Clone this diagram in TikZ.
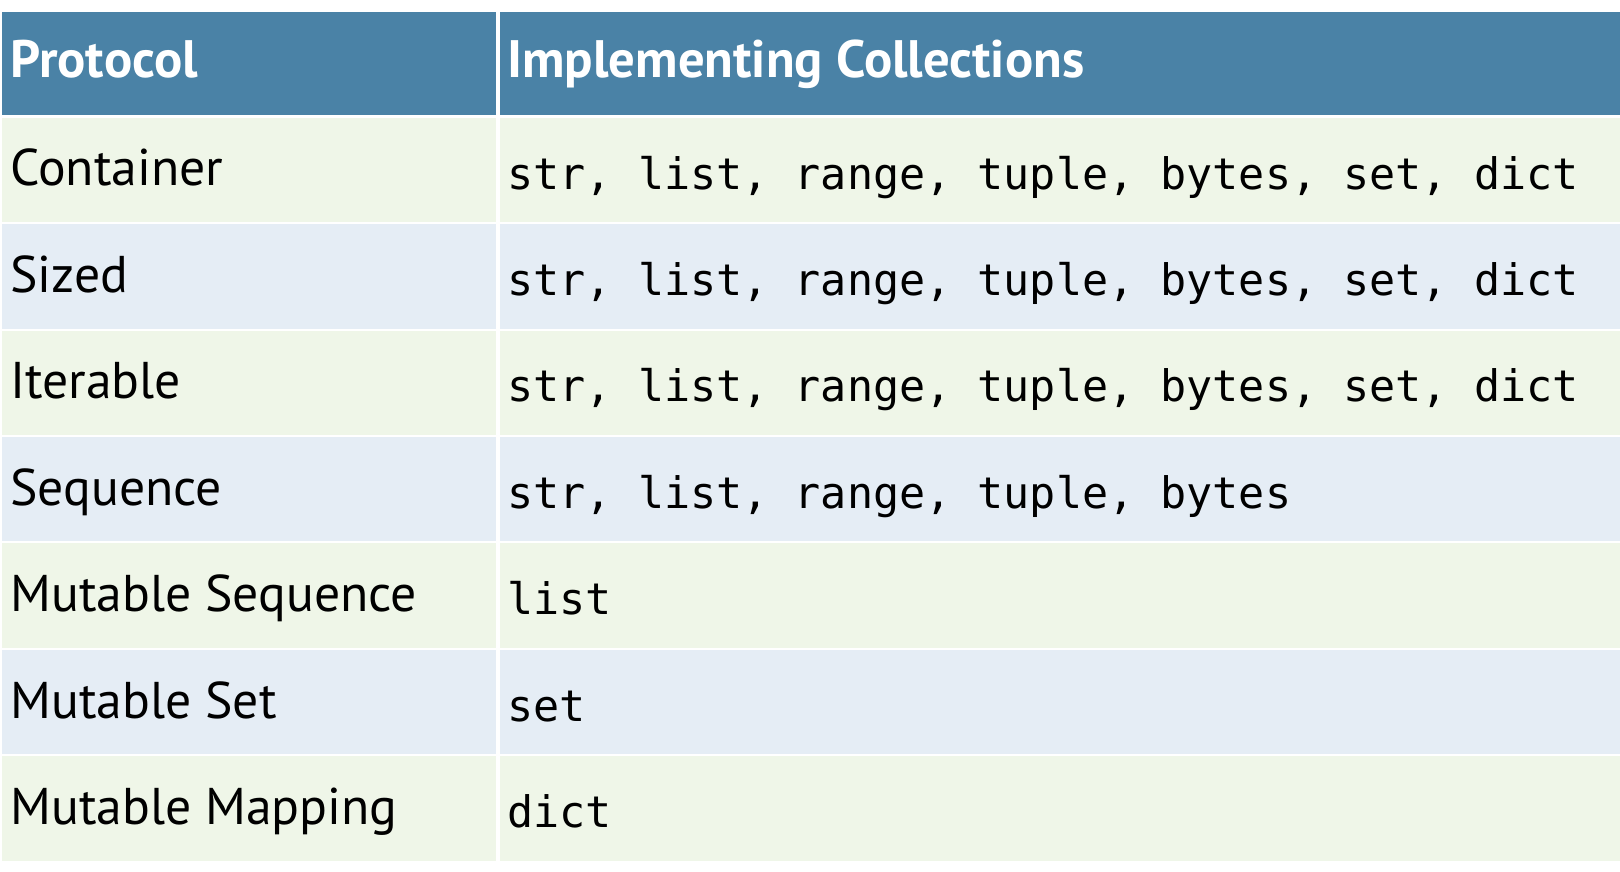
\documentclass[tikz,border=0pt]{standalone}
\usepackage{fontspec}
\setsansfont{PT Sans}
\setmonofont{DejaVu Sans Mono}
\usetikzlibrary{positioning}
\definecolor{headblue}{HTML}{4A82A6}
\definecolor{rowgreen}{HTML}{EFF6E8}
\definecolor{rowblue}{HTML}{E5EDF5}

\begin{document}
\begin{tikzpicture}[x=1pt,y=-1pt]
  \tikzstyle{every node}=[inner sep=0pt,anchor=base west]
  \tikzstyle{head}=[font=\sffamily\bfseries\fontsize{51}{60}\selectfont,text=white]
  \tikzstyle{proto}=[font=\sffamily\fontsize{50}{60}\selectfont]
  \tikzstyle{impl}=[font=\ttfamily\fontsize{42}{50}\selectfont]

  \useasboundingbox (0,0) rectangle (1568,844);
  \fill[white] (0,0) rectangle (1568,844);

  % header
  \fill[headblue] (2,12) rectangle (480,111);
  \fill[headblue] (484,12) rectangle (1568,111);
  \node[head] (h_proto) at (10,75)  {Protocol};
  \node[head] (h_impl)  at (491,75) {Implementing Collections};

  % rows
  \foreach \p/\i [count=\n from 0] in {
      Container/{str, list, range, tuple, bytes, set, dict},
      Sized/{str, list, range, tuple, bytes, set, dict},
      Iterable/{str, list, range, tuple, bytes, set, dict},
      Sequence/{str, list, range, tuple, bytes},
      Mutable Sequence/list,
      Mutable Set/set,
      Mutable Mapping/dict}
  {
    \pgfmathsetmacro{\top}{114+103*\n}
    \pgfmathtruncatemacro{\odd}{mod(\n,2)}
    \ifnum\odd=0 \def\rowcol{rowgreen}\else\def\rowcol{rowblue}\fi
    \fill[\rowcol] (2,\top) rectangle (480,\top+101);
    \fill[\rowcol] (484,\top) rectangle (1568,\top+101);
    \node[proto] (proto_\n) at (10,\top+66)  {\p};
    \node[impl]  (impl_\n)  at (491,\top+69) {\i};
  }
\end{tikzpicture}
\end{document}
